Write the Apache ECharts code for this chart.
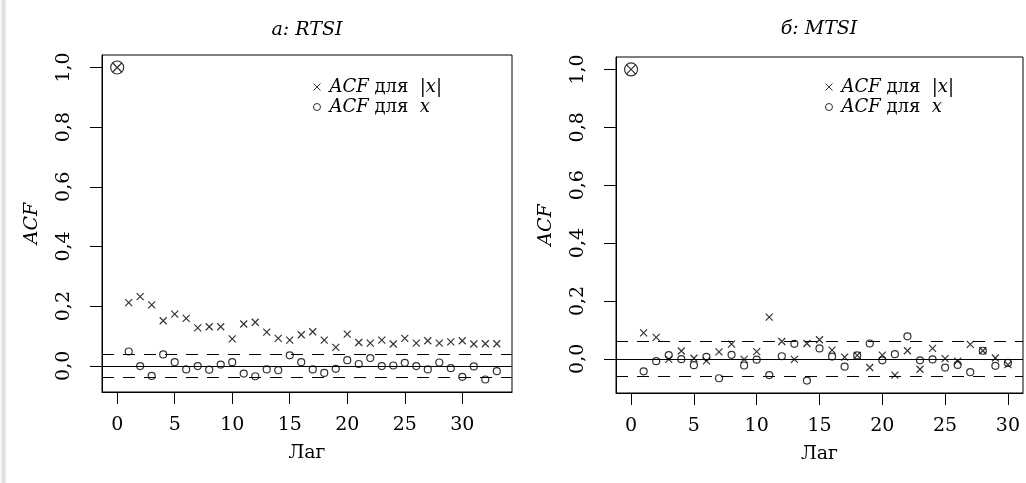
<!DOCTYPE html>
<html>
<head>
<meta charset="utf-8">
<script src="https://cdn.jsdelivr.net/npm/echarts@6/dist/echarts.min.js"></script>
<style>
  html, body { margin: 0; padding: 0; background: #fff; }
  #chart { width: 1026px; height: 483px; }
</style>
</head>
<body>
<div id="chart"></div>
<script>
// лаги и значения ACF
const lagsRtsi = [0,1,2,3,4,5,6,7,8,9,10,11,12,13,14,15,16,17,18,19,20,21,22,23,24,25,26,27,28,29,30,31,32,33];
const absRtsi = [1.0, 0.212, 0.232, 0.204, 0.151, 0.173, 0.159, 0.127, 0.131, 0.131, 0.090, 0.140, 0.146, 0.113,
  0.092, 0.086, 0.104, 0.114, 0.086, 0.062, 0.106, 0.078, 0.076, 0.086, 0.073, 0.092, 0.076, 0.084, 0.076,
  0.080, 0.084, 0.073, 0.074, 0.074];
const rawRtsi = [1.0, 0.048, -0.001, -0.034, 0.038, 0.012, -0.012, -0.001, -0.013, 0.004, 0.012, -0.026, -0.035,
  -0.012, -0.015, 0.035, 0.012, -0.012, -0.024, -0.010, 0.019, 0.006, 0.026, -0.001, 0.001, 0.010, -0.001,
  -0.012, 0.011, -0.008, -0.037, -0.002, -0.046, -0.018];

const lagsMtsi = [0,1,2,3,4,5,6,7,8,9,10,11,12,13,14,15,16,17,18,19,20,21,22,23,24,25,26,27,28,29,30];
const absMtsi = [1.0, 0.090, 0.074, -0.002, 0.027, 0.002, -0.007, 0.024, 0.051, -0.002, 0.025, 0.144, 0.060,
  -0.002, 0.053, 0.066, 0.030, 0.006, 0.012, -0.030, 0.013, -0.056, 0.028, -0.036, 0.036, 0.001, -0.008,
  0.050, 0.028, 0.003, -0.020];
const rawMtsi = [1.0, -0.043, -0.008, 0.013, -0.001, -0.022, 0.007, -0.067, 0.014, -0.023, -0.003, -0.056,
  0.009, 0.052, -0.075, 0.036, 0.008, -0.027, 0.012, 0.053, -0.005, 0.016, 0.078, -0.005, -0.002, -0.030,
  -0.021, -0.046, 0.028, -0.024, -0.014];

// доверительные границы
const confRtsi = [0.045];
const confMtsi = [0.0625];

const xTicks = [0, 5, 10, 15, 20, 25, 30];
const yTicks = [0, 0.2, 0.4, 0.6, 0.8, 1.0];
const titles = ['а: RTSI', 'б: MTSI'];

const FONT = 'DejaVu Serif';
const crossPath = 'path://M0,0L10,10M10,0L0,10';

// как в R: диапазон +4%
function pad(lo, hi) {
  const d = (hi - lo) * 0.04;
  return [lo - d, hi + d];
}

function zip(xs, ys) {
  return xs.map((x, i) => [x, ys[i]]);
}

function makeAxes(idx, lags, a, b) {
  const xr = pad(Math.min(...lags), Math.max(...lags));
  const all = a.concat(b);
  const yr = pad(Math.min(...all), Math.max(...all));
  const x = {
    type: 'value', gridIndex: idx, min: xr[0], max: xr[1],
    name: 'Лаг', nameLocation: 'middle', nameGap: 52,
    nameTextStyle: { fontFamily: FONT, fontSize: 19, color: '#000' },
    axisLine: { show: true, onZero: false, lineStyle: { color: '#000' } },
    splitLine: { show: false },
    axisTick: { show: true, length: 12, customValues: xTicks, lineStyle: { color: '#000' } },
    axisLabel: { customValues: xTicks, margin: 24, fontFamily: FONT, fontSize: 19, color: '#000' },
  };
  const y = {
    type: 'value', gridIndex: idx, min: yr[0], max: yr[1],
    name: 'ACF', nameLocation: 'middle', nameGap: 60,
    nameTextStyle: { fontFamily: FONT, fontSize: 19, fontStyle: 'italic', color: '#000' },
    axisLine: { show: true, onZero: false, lineStyle: { color: '#000' } },
    splitLine: { show: false },
    axisTick: { show: true, length: 12, customValues: yTicks, lineStyle: { color: '#000' } },
    axisLabel: {
      customValues: yTicks, rotate: 90, margin: 28, fontFamily: FONT, fontSize: 19, color: '#000',
      formatter: (v) => v.toFixed(1).replace('.', ','),
    },
  };
  return [x, y];
}

function makeSeries(idx, lags, a, b, conf) {
  return [
    {
      name: 'abs', type: 'scatter', xAxisIndex: idx, yAxisIndex: idx,
      data: zip(lags, a), symbol: crossPath,
      symbolSize: (v) => (v[0] === 0 ? 9 : 7),
      itemStyle: { color: 'transparent', borderColor: '#000', borderWidth: 1.2 },
    },
    {
      name: 'raw', type: 'scatter', xAxisIndex: idx, yAxisIndex: idx,
      data: zip(lags, b), symbol: 'circle',
      symbolSize: (v) => (v[0] === 0 ? 13 : 7),
      itemStyle: { color: 'transparent', borderColor: '#000', borderWidth: 1.2 },
      markLine: {
        silent: true, symbol: ['none', 'none'], label: { show: false },
        data: [
          { yAxis: 0, lineStyle: { color: '#000', type: 'solid', width: 1 } },
          { yAxis: conf[0], lineStyle: { color: '#000', type: [12, 9], width: 1 } },
          { yAxis: -conf[0], lineStyle: { color: '#000', type: [12, 9], width: 1 } },
        ],
      },
    },
  ];
}

const axL = makeAxes(0, lagsRtsi, absRtsi, rawRtsi);
const axR = makeAxes(1, lagsMtsi, absMtsi, rawMtsi);

const legendNames = {
  abs: '{i|ACF} для  |{i|x}|',
  raw: '{i|ACF} для  {i|x}',
};
function makeLegend(left) {
  return {
    left: left, top: 73, orient: 'vertical', itemGap: 2,
    itemWidth: 7, itemHeight: 7, selectedMode: false,
    data: [
      { name: 'abs', icon: crossPath, itemStyle: { color: 'transparent', borderColor: '#000', borderWidth: 1 } },
      { name: 'raw', icon: 'circle', itemStyle: { color: 'transparent', borderColor: '#000', borderWidth: 1 } },
    ],
    formatter: (n) => legendNames[n],
    textStyle: {
      fontFamily: FONT, fontSize: 18, color: '#000', padding: [0, 0, 0, 4],
      rich: { i: { fontFamily: FONT, fontSize: 18, fontStyle: 'italic', color: '#000' } },
    },
  };
}

const chart = echarts.init(document.getElementById('chart'));
chart.setOption({
  backgroundColor: '#fff',
  animation: false,
  grid: [
    { left: 102, top: 55, width: 410, height: 337, show: true, borderColor: '#000', borderWidth: 1 },
    { left: 616, top: 57, width: 407, height: 336, show: true, borderColor: '#000', borderWidth: 1 },
  ],
  xAxis: [axL[0], axR[0]],
  yAxis: [axL[1], axR[1]],
  legend: [makeLegend(308), makeLegend(820)],
  series: makeSeries(0, lagsRtsi, absRtsi, rawRtsi, confRtsi)
    .concat(makeSeries(1, lagsMtsi, absMtsi, rawMtsi, confMtsi)),
  graphic: [
    {
      type: 'rect', left: 0, top: 0, shape: { width: 7, height: 483 }, silent: true,
      style: { fill: new echarts.graphic.LinearGradient(0, 0, 1, 0, [
        { offset: 0, color: '#ffffff' }, { offset: 0.5, color: '#d8d8d8' }, { offset: 1, color: '#ffffff' },
      ]) },
    },
    {
      type: 'text', x: 307, y: 30, silent: true,
      style: { text: titles[0], fontFamily: FONT, fontSize: 19, fontStyle: 'italic', fill: '#000', align: 'center', verticalAlign: 'middle' },
    },
    {
      type: 'text', x: 819, y: 29, silent: true,
      style: { text: titles[1], fontFamily: FONT, fontSize: 19, fontStyle: 'italic', fill: '#000', align: 'center', verticalAlign: 'middle' },
    },
  ],
});
</script>
</body>
</html>
